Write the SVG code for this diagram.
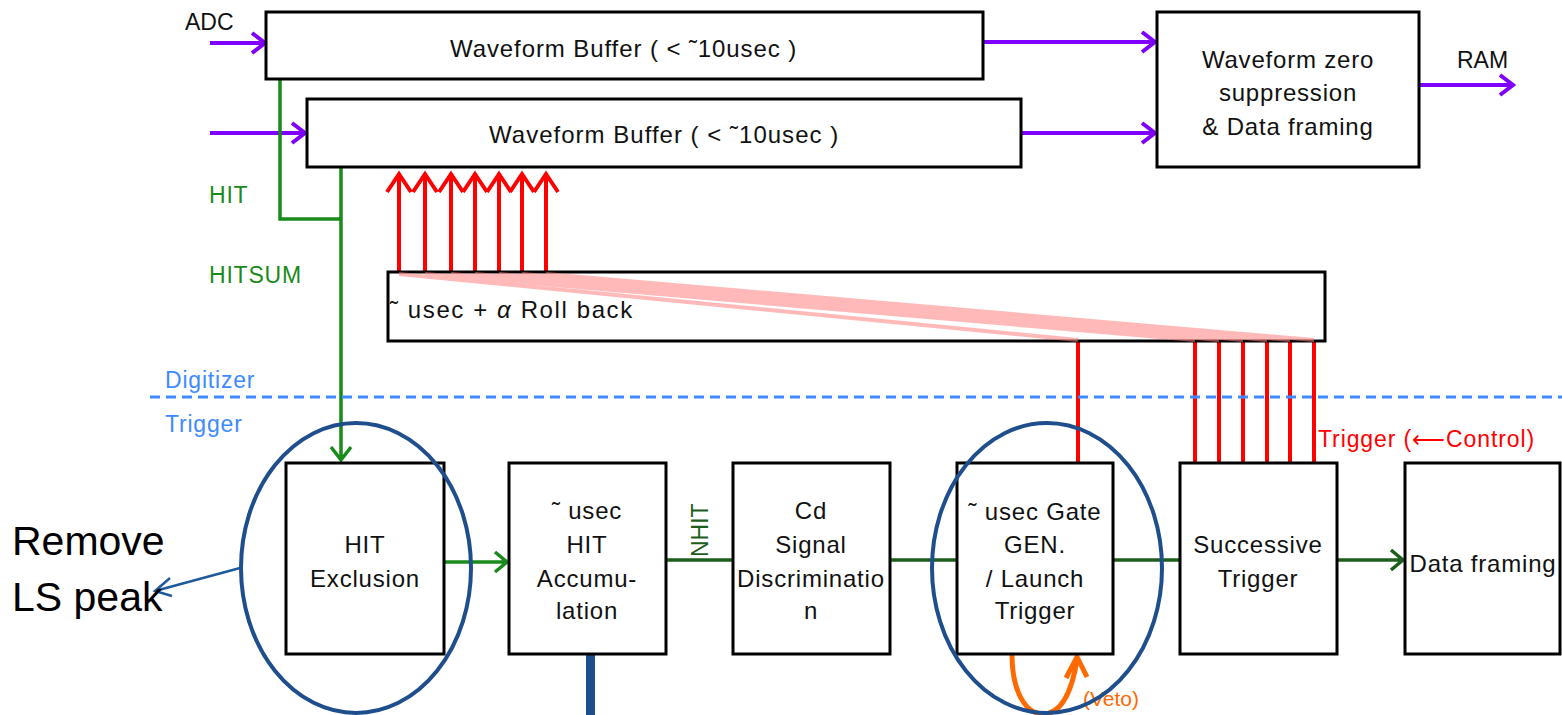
<svg xmlns="http://www.w3.org/2000/svg" width="1562" height="715" viewBox="0 0 1562 715">
<style>
.box{fill:#fff;stroke:#000;stroke-width:3}
.t{font-family:"Liberation Sans",Arial,sans-serif;font-size:24px;letter-spacing:0.8px;fill:#111;text-anchor:middle}
.lbl{font-family:"Liberation Sans",Arial,sans-serif;font-size:23px;letter-spacing:0.8px}
.pur{stroke:#8000ff;stroke-width:4;fill:none}
.grn{stroke:#1a8a1a;stroke-width:3.5;fill:none}
.dg{stroke:#1d5e1d;stroke-width:3.5;fill:none}
.red{stroke:#ff0000;stroke-width:4;fill:none}
.pink{stroke:#ff8080;stroke-width:4;opacity:0.55}
.ell{fill:none;stroke:#1f4e8c;stroke-width:4}
</style>
<rect width="1562" height="715" fill="#fff"/>

<g id="connectors">
  <path class="pur" d="M210 43 H264 M252 33 L265 43 L252 53"/>
  <path class="pur" d="M210 133 H305 M292 123 L305 133 L292 143"/>
  <path class="pur" d="M983 42 H1155 M1142 32 L1155 42 L1142 52"/>
  <path class="pur" d="M1021 133 H1155 M1142 123 L1155 133 L1142 143"/>
  <path class="pur" d="M1419 85 H1513 M1500 75 L1513 85 L1500 95"/>
  <path class="grn" d="M280 79 V219 H341"/>
  <path class="grn" d="M341 167 V460 M331 447 L341 460 L351 447"/>
  <path class="grn" d="M444 562 H507 M495 552 L507 562 L495 572"/>
  <path class="dg" d="M666 560 H733"/>
  <path class="dg" d="M890 560 H957"/>
  <path class="dg" d="M1113 560 H1180"/>
  <path class="dg" d="M1337 560 H1403 M1391 550 L1403 560 L1391 570"/>
  <g class="red">
    <path d="M399 272 V174 M387 192 L399 174 L411 192"/>
    <path d="M425 272 V174 M413 192 L425 174 L437 192"/>
    <path d="M451 272 V174 M439 192 L451 174 L463 192"/>
    <path d="M475 272 V174 M463 192 L475 174 L487 192"/>
    <path d="M499 272 V174 M487 192 L499 174 L511 192"/>
    <path d="M522 272 V174 M510 192 L522 174 L534 192"/>
    <path d="M546 272 V174 M534 192 L546 174 L558 192"/>
  </g>
  <g class="red">
    <path d="M1078 341 V462"/>
    <path d="M1195 341 V462"/>
    <path d="M1219 341 V462"/>
    <path d="M1243 341 V462"/>
    <path d="M1267 341 V462"/>
    <path d="M1290 341 V462"/>
    <path d="M1314 341 V462"/>
  </g>
  <path d="M1012 655 C1012 690 1025 714 1043 714 C1062 714 1072 690 1077 660" fill="none" stroke="#ff6a00" stroke-width="5"/>
  <path d="M1066 678 L1077 657 L1087 677" fill="none" stroke="#ff6a00" stroke-width="5"/>
  <path d="M240 568 L155 591 M170 578 L155 591 L172 596" fill="none" stroke="#1f5a9a" stroke-width="2.5"/>
  <rect x="586" y="636" width="9" height="79" fill="#1f4e8c"/>
</g>

<line x1="150" y1="397" x2="1562" y2="397" stroke="#3d8bff" stroke-width="3" stroke-dasharray="10 6"/>
<text class="lbl" x="165" y="388" fill="#3d8bff">Digitizer</text>
<text class="lbl" x="165" y="432" fill="#3d8bff">Trigger</text>

<text class="lbl" x="185" y="30" fill="#111" font-size="19" style="letter-spacing:0">ADC</text>
<text class="lbl" x="1457" y="68" fill="#111" font-size="20" style="letter-spacing:0">RAM</text>
<text class="lbl" x="209" y="203" fill="#1a8a1a">HIT</text>
<text class="lbl" x="209" y="283" fill="#1a8a1a">HITSUM</text>
<text class="lbl" x="1318" y="447" fill="#ff0000" font-size="22" textLength="217" lengthAdjust="spacing">Trigger (⟵Control)</text>
<text class="lbl" x="0" y="0" fill="#1d5e1d" font-size="19" style="letter-spacing:0" transform="translate(708 557) rotate(-90)">NHIT</text>

<g id="buffer1">
  <rect class="box" x="266" y="12" width="717" height="67"/>
  <text class="t" x="450" y="57" style="text-anchor:start" textLength="347" lengthAdjust="spacing">Waveform Buffer ( &lt; ˜10usec )</text>
</g>
<g id="buffer2">
  <rect class="box" x="307" y="99" width="714" height="68"/>
  <text class="t" x="489" y="143" style="text-anchor:start" textLength="350" lengthAdjust="spacing">Waveform Buffer ( &lt; ˜10usec )</text>
</g>
<g id="zerosup">
  <rect class="box" x="1157" y="12" width="262" height="155"/>
  <text class="t" x="1288" y="68">Waveform zero</text>
  <text class="t" x="1288" y="101">suppression</text>
  <text class="t" x="1288" y="135">&amp; Data framing</text>
</g>
<g id="rollback">
  <rect class="box" x="388" y="272" width="937" height="69"/>
  <g class="pink">
    <line x1="399" y1="274" x2="1078" y2="340"/>
    <line x1="425" y1="274" x2="1195" y2="340"/>
    <line x1="451" y1="274" x2="1219" y2="340"/>
    <line x1="475" y1="274" x2="1243" y2="340"/>
    <line x1="499" y1="274" x2="1267" y2="340"/>
    <line x1="522" y1="274" x2="1290" y2="340"/>
    <line x1="546" y1="274" x2="1314" y2="340"/>
  </g>
  <text class="t" x="390" y="318" style="text-anchor:start" textLength="243" lengthAdjust="spacing">˜ usec + <tspan font-style="italic">α</tspan>  Roll back</text>
</g>

<g id="hitexcl">
  <rect class="box" x="286" y="463" width="158" height="191"/>
  <text class="t" x="365" y="553">HIT</text>
  <text class="t" x="365" y="587">Exclusion</text>
</g>
<g id="accum">
  <rect class="box" x="509" y="463" width="157" height="191"/>
  <text class="t" x="587" y="519">˜ usec</text>
  <text class="t" x="587" y="553">HIT</text>
  <text class="t" x="587" y="587">Accumu-</text>
  <text class="t" x="587" y="619">lation</text>
</g>
<g id="cd">
  <rect class="box" x="733" y="463" width="157" height="191"/>
  <text class="t" x="811" y="519">Cd</text>
  <text class="t" x="811" y="553">Signal</text>
  <text class="t" x="811" y="587">Discriminatio</text>
  <text class="t" x="811" y="619">n</text>
</g>
<g id="gate">
  <rect class="box" x="957" y="463" width="156" height="191"/>
  <text class="t" x="1035" y="520">˜ usec Gate</text>
  <text class="t" x="1035" y="553">GEN.</text>
  <text class="t" x="1035" y="587">/ Launch</text>
  <text class="t" x="1035" y="619">Trigger</text>
</g>
<g id="successive">
  <rect class="box" x="1180" y="463" width="157" height="191"/>
  <text class="t" x="1258" y="553">Successive</text>
  <text class="t" x="1258" y="587">Trigger</text>
</g>
<g id="dataframing">
  <rect class="box" x="1405" y="463" width="155" height="191"/>
  <text class="t" x="1483" y="572">Data framing</text>
</g>

<text x="1083" y="706" font-family="Liberation Sans, Arial, sans-serif" font-size="21" fill="#ff6a00">(Veto)</text>

<g id="annotations">
  <ellipse class="ell" cx="356" cy="568" rx="115" ry="145"/>
  <ellipse class="ell" cx="1047" cy="568" rx="115" ry="145"/>
  <text x="12" y="555" font-family="Liberation Sans, Arial, sans-serif" font-size="41" fill="#000">Remove</text>
  <text x="12" y="611" font-family="Liberation Sans, Arial, sans-serif" font-size="41" fill="#000">LS peak</text>
</g>
</svg>
